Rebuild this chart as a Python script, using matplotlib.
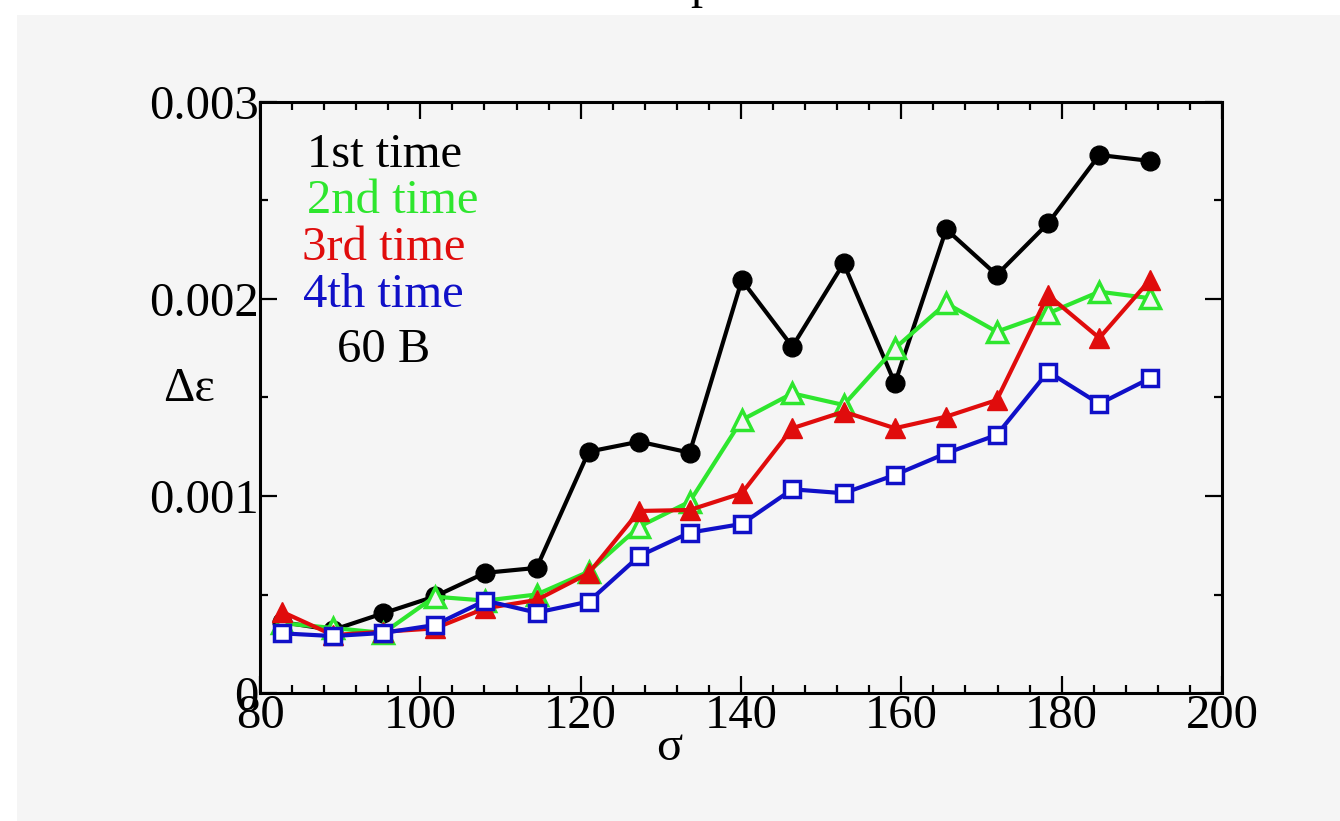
import matplotlib
matplotlib.use('Agg')
import matplotlib.pyplot as plt
from matplotlib.patches import Rectangle
from matplotlib.ticker import MultipleLocator

# sigma values
sigma = [82.7, 89.1, 95.4, 101.8, 108.1, 114.5, 121.0, 127.3, 133.6,
         140.1, 146.4, 152.8, 159.2, 165.6, 171.9, 178.3, 184.7, 191.0]

# delta epsilon, one list per run
first = [0.00036, 0.00032, 0.000405, 0.00049, 0.00061, 0.000635, 0.001225, 0.001276, 0.00122,
         0.002096, 0.001758, 0.002181, 0.001572, 0.002354, 0.002122, 0.002384, 0.002731, 0.002701]
second = [0.000355, 0.00033, 0.000305, 0.000489, 0.000469, 0.0005, 0.000616, 0.000844, 0.000971,
          0.001386, 0.001521, 0.001462, 0.00175, 0.001978, 0.001834, 0.001927, 0.002037, 0.002004]
third = [0.000413, 0.000294, 0.000311, 0.000328, 0.00043, 0.000472, 0.000608, 0.000924, 0.000929,
         0.001014, 0.001344, 0.001428, 0.001344, 0.001403, 0.001487, 0.00202, 0.001802, 0.002096]
fourth = [0.000303, 0.000289, 0.000305, 0.000345, 0.000469, 0.000408, 0.000464, 0.000695, 0.000814,
          0.000858, 0.001034, 0.001014, 0.001107, 0.001217, 0.00131, 0.001631, 0.001468, 0.001597]

xticks = [80, 100, 120, 140, 160, 180, 200]
yticks = [0, 0.001, 0.002, 0.003]
ytick_labels = ['0', '0.001', '0.002', '0.003']
labels = ['1st time', '2nd time', '3rd time', '4th time', '60 B']

GREEN = '#2ee62e'
RED = '#e00c0c'
BLUE = '#1010c8'
BG = '#f5f5f5'
FS = 35

plt.rcParams['font.family'] = ['Liberation Serif', 'DejaVu Serif']

fig = plt.figure(figsize=(13.4, 8.21), dpi=100)
fig.patch.set_facecolor('white')
fig.patches.append(Rectangle((17 / 1340, 0), 1, 1 - 15 / 821, transform=fig.transFigure,
                             facecolor=BG, edgecolor='none', zorder=-10))
# cut off title piece at the very top
fig.text(0.5245, 1.003, 'p', fontsize=FS, ha='center', va='baseline', color='black')

ax = fig.add_axes([260 / 1340, 1 - 693 / 821, 962 / 1340, 591 / 821])
ax.set_facecolor(BG)

ax.plot(sigma, first, '-o', color='black', lw=3, ms=13.5, zorder=3)
ax.plot(sigma, second, '-^', color=GREEN, lw=3, ms=14, mfc=BG, mec=GREEN, mew=2.5, zorder=4)
ax.plot(sigma, third, '-^', color=RED, lw=3, ms=15, zorder=5)
ax.plot(sigma, fourth, '-s', color=BLUE, lw=3, ms=11.5, mfc='white', mec=BLUE, mew=2.5, zorder=6)

ax.set_xlim(80, 200)
ax.set_ylim(0, 0.003)
ax.set_xticks(xticks)
ax.set_xticklabels([str(v) for v in xticks])
ax.set_yticks(yticks)
ax.set_yticklabels(ytick_labels)
ax.xaxis.set_minor_locator(MultipleLocator(4))
ax.yaxis.set_minor_locator(MultipleLocator(0.0005))

ax.tick_params(which='both', direction='in', top=True, right=True, width=1.6,
               labelsize=FS, pad=1)
ax.tick_params(which='major', length=12)
ax.tick_params(which='minor', length=6)
for s in ax.spines.values():
    s.set_linewidth(2.2)

ax.set_xlabel('σ', fontsize=FS)
ax.xaxis.set_label_coords(0.425, -0.055)
ax.text(-0.047, 0.515, 'Δε', transform=ax.transAxes, fontsize=FS, ha='right', va='center')

colors = ['black', GREEN, RED, BLUE, 'black']
ypos = [0.910, 0.832, 0.753, 0.673, 0.580]
xpos = [0.129, 0.138, 0.129, 0.128, 0.129]
for t, c, xx, yy in zip(labels, colors, xpos, ypos):
    ax.text(xx, yy, t, transform=ax.transAxes, fontsize=FS, color=c,
            ha='center', va='center')

fig.savefig('out.png', dpi=100, facecolor=fig.get_facecolor())
